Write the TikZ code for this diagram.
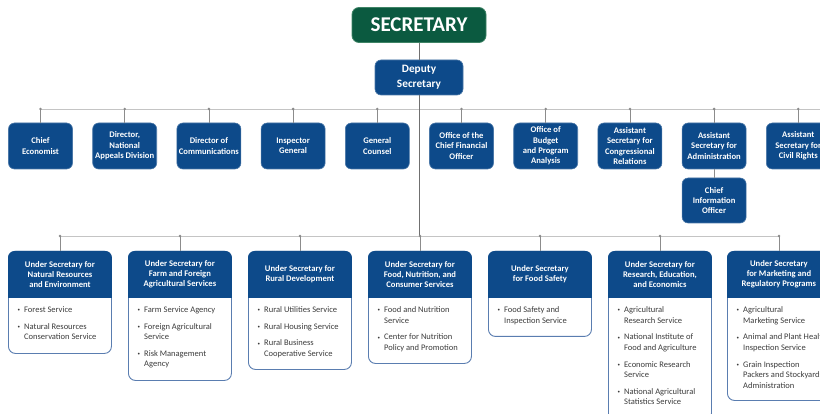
\documentclass[tikz,border=0pt]{standalone}
\usepackage{fontspec}
\setmainfont{Carlito}
\usetikzlibrary{calc}
\definecolor{dblue}{HTML}{0D4A8A}
\definecolor{dgreen}{HTML}{0B5A40}
\definecolor{gbord}{HTML}{3F8466}
\definecolor{bord}{HTML}{5A7DB0}
\definecolor{busc}{HTML}{C4C4C4}
\definecolor{linec}{HTML}{8C8C8C}
\definecolor{dotcol}{HTML}{8A8A8A}
\definecolor{txt}{HTML}{3C3C3C}
\newcommand{\bul}{\makebox[6.5pt][l]{\raisebox{0.8pt}{\fontsize{5}{5}\selectfont •}}}
\newcommand{\cnt}{\hspace*{6.5pt}}
\newcommand{\lowunit}[5]{%
 \node[lowbox, anchor=north west, minimum height={#3pt-251pt}] (#1) at (#2,251) {};
 \fill[dblue, rounded corners=6.5pt] (#1.north west) rectangle ($(#1.north east)+(0,47)$);
 \fill[dblue] ($(#1.north west)+(0,20)$) rectangle ($(#1.north east)+(0,47)$);
 \node[lowhead] (#1h) at ($(#1.north)+(0,23.5)$) {#4};
 \node[lowbody, anchor=north west] (#1b) at ($(#1.north west)+(9.5,55.5)$) {#5};
 \draw[conn] (#1.north |- lbus) -- (#1.north);
 \fill[dotcol] (#1.north |- lbus) circle (1.4);
}
\begin{document}
\begin{tikzpicture}[x=1pt,y=-1pt,
  topbox/.style={fill=dblue, draw=dblue!75!white, line width=0.6pt, rounded corners=6pt,
    minimum width=64pt, minimum height=46pt, text=white, align=center, inner sep=1pt,
    font=\bfseries\fontsize{8.6}{10.4}\selectfont},
  lowbox/.style={fill=white, draw=bord, line width=0.9pt, rounded corners=7pt,
    minimum width=103pt, inner sep=0pt},
  lowhead/.style={text=white, align=center, inner sep=0pt,
    font=\bfseries\fontsize{8.6}{10.2}\selectfont},
  lowbody/.style={text=txt, align=left, inner sep=0pt,
    font=\fontsize{8.5}{10.6}\selectfont},
  bus/.style={draw=busc, line width=0.8pt},
  conn/.style={draw=linec, line width=0.6pt},
  vline/.style={draw=linec!80!black, line width=0.7pt}]
\useasboundingbox (0,0) rectangle (820,414);
\clip (0,0) rectangle (820,414);
\coordinate (tbus) at (0,109);
\coordinate (tbR) at (820,109);
\coordinate (lbus) at (0,236);

% top nodes
\node[fill=dgreen, draw=gbord, line width=0.8pt, rounded corners=7pt, minimum width=134pt,
  minimum height=35pt, text=white, font=\bfseries\fontsize{21}{24}\selectfont, inner sep=0pt]
  (sec) at (419,25) {SECRETARY};
\node[topbox, minimum width=88pt, minimum height=35pt, rounded corners=6pt,
  font=\bfseries\fontsize{11.3}{15}\selectfont] (dep) at (419,77.5) {Deputy\\Secretary};

% vertical trunk
\draw[vline] (sec.south) -- (dep.north);

% staff row
\node[topbox] (t0) at (40.5,146) {Chief\\Economist};
\node[topbox] (t1) at (124.7,146) {Director,\\National\\Appeals Division};
\node[topbox] (t2) at (208.9,146) {Director of\\Communications};
\node[topbox] (t3) at (293.1,146) {Inspector\\General};
\node[topbox] (t4) at (377.3,146) {General\\Counsel};
\node[topbox] (t5) at (461.5,146) {Office of the\\Chief Financial\\Officer};
\node[topbox] (t6) at (545.7,146) {Office of\\Budget\\and Program\\Analysis};
\node[topbox] (t7) at (629.9,146) {Assistant\\Secretary for\\Congressional\\Relations};
\node[topbox] (t8) at (714.1,146) {Assistant\\Secretary for\\Administration};
\node[topbox] (t9) at (798.3,146) {Assistant\\Secretary for\\Civil Rights};
\node[topbox, minimum height=45pt] (cio) at (714.1,200.5) {Chief\\Information\\Officer};

\draw[bus] (t0.north |- tbus) -- (tbR);
\foreach \i in {0,...,9}{
  \draw[conn] (t\i.north |- tbus) -- (t\i.north);
  \fill[dotcol] (t\i.north |- tbus) circle (1.4);
}
\draw[conn] (t8.south) -- (cio.north);

% lower bus
\draw[bus] (59.5,236) -- (778.5,236);
\draw[vline] (dep.south) -- (dep.south |- lbus);

\lowunit{L1}{8}{353}{Under Secretary for\\Natural Resources\\and Environment}
  {\bul Forest Service\\[6pt]\bul Natural Resources\\\cnt Conservation Service}
\lowunit{L2}{128}{380}{Under Secretary for\\Farm and Foreign\\Agricultural Services}
  {\bul Farm Service Agency\\[6pt]\bul Foreign Agricultural\\\cnt Service\\[6pt]\bul Risk Management\\\cnt Agency}
\lowunit{L3}{248}{369}{Under Secretary for\\Rural Development}
  {\bul Rural Utilities Service\\[6pt]\bul Rural Housing Service\\[6pt]\bul Rural Business\\\cnt Cooperative Service}
\lowunit{L4}{368}{363}{Under Secretary for\\Food, Nutrition, and\\Consumer Services}
  {\bul Food and Nutrition\\\cnt Service\\[6pt]\bul Center for Nutrition\\\cnt Policy and Promotion}
\lowunit{L5}{488}{336}{Under Secretary\\for Food Safety}
  {\bul Food Safety and\\\cnt Inspection Service}
\lowunit{L6}{608}{420}{Under Secretary for\\Research, Education,\\and Economics}
  {\bul Agricultural\\\cnt Research Service\\[6pt]\bul National Institute of\\\cnt Food and Agriculture\\[6pt]\bul Economic Research\\\cnt Service\\[6pt]\bul National Agricultural\\\cnt Statistics Service}
\lowunit{L7}{727}{400}{Under Secretary\\for Marketing and\\Regulatory Programs}
  {\bul Agricultural\\\cnt Marketing Service\\[6pt]\bul Animal and Plant Health\\\cnt Inspection Service\\[6pt]\bul Grain Inspection\\\cnt Packers and Stockyards\\\cnt Administration}
\end{tikzpicture}
\end{document}
